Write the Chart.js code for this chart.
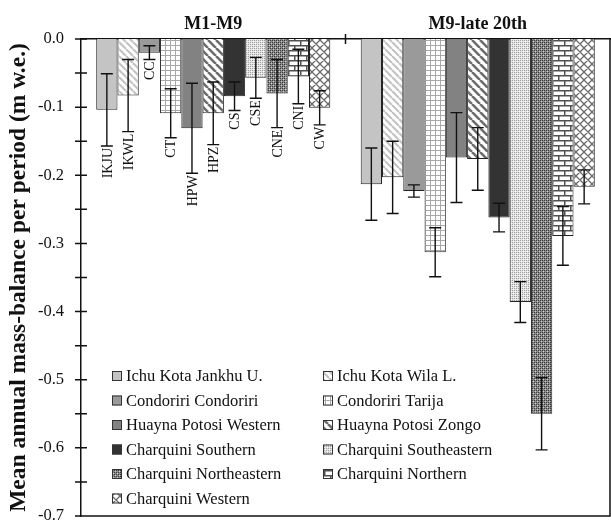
<!DOCTYPE html>
<html>
<head>
<meta charset="utf-8">
<script src="https://cdn.jsdelivr.net/npm/chart.js@4.4.0/dist/chart.umd.min.js"></script>
<style>
  html, body { margin: 0; padding: 0; background: #fff; }
  #wrap { width: 611px; height: 525px; }
</style>
</head>
<body>
<div id="wrap"><canvas id="massChart"></canvas></div>
<script>
const periods = ['M1-M9', 'M9-late 20th'];
const glacierNames = [
    'Ichu Kota Jankhu U.', 'Ichu Kota Wila L.', 'Condoriri Condoriri', 'Condoriri Tarija',
    'Huayna Potosi Western', 'Huayna Potosi Zongo', 'Charquini Southern', 'Charquini Southeastern',
    'Charquini Northeastern', 'Charquini Northern', 'Charquini Western'
];
const glacierCodes = ['IKJU', 'IKWL', 'CC', 'CT', 'HPW', 'HPZ', 'CS', 'CSE', 'CNE', 'CNI', 'CW'];
const balanceM1M9 = [-0.104, -0.083, -0.020, -0.109, -0.131, -0.109, -0.084, -0.057, -0.080, -0.055, -0.101];
const balanceM9Late = [-0.213, -0.203, -0.223, -0.313, -0.174, -0.176, -0.262, -0.386, -0.550, -0.289, -0.217];
const errorM1M9 = [0.053, 0.053, 0.010, 0.036, 0.066, 0.046, 0.021, 0.030, 0.050, 0.040, 0.025];
const errorM9Late = [0.053, 0.053, 0.009, 0.036, 0.066, 0.046, 0.021, 0.030, 0.053, 0.043, 0.025];
const yTickValues = [0, -0.1, -0.2, -0.3, -0.4, -0.5, -0.6, -0.7];

const SERIF = "'Liberation Serif', 'Times New Roman', serif";

function makePattern(w, h, draw) {
    const c = document.createElement('canvas');
    c.width = w;
    c.height = h;
    const g = c.getContext('2d');
    draw(g, w, h);
    return g.createPattern(c, 'repeat');
}

function solid(color) {
    return makePattern(4, 4, function (g, w, h) { g.fillStyle = color; g.fillRect(0, 0, w, h); });
}

function hatch(bg, fg, lw, size) {
    return makePattern(size, size, function (g, w, h) {
        g.fillStyle = bg; g.fillRect(0, 0, w, h);
        g.strokeStyle = fg; g.lineWidth = lw;
        g.beginPath();
        for (let k = -1; k <= 1; k++) {
            g.moveTo(k * w, 0);
            g.lineTo(k * w + w, h);
        }
        g.stroke();
    });
}

function dots(bg, a, b) {
    return makePattern(4, 4, function (g) {
        g.fillStyle = bg; g.fillRect(0, 0, 4, 4);
        g.fillStyle = a;
        g.fillRect(0, 0, 1, 1); g.fillRect(2, 2, 1, 1); g.fillRect(2, 0, 1, 1); g.fillRect(0, 2, 1, 1);
        g.fillStyle = b;
        g.fillRect(1, 1, 1, 1); g.fillRect(3, 3, 1, 1);
    });
}

const fills = [
    solid('#c4c4c4'),
    hatch('#ffffff', '#c4c4c4', 2.2, 7),
    solid('#9a9a9a'),
    makePattern(5, 5, function (g, w, h) {
        g.fillStyle = '#ffffff'; g.fillRect(0, 0, w, h);
        g.fillStyle = '#a8a8a8'; g.fillRect(0, 0, w, 1); g.fillRect(0, 0, 1, h);
    }),
    solid('#828282'),
    hatch('#ffffff', '#6e6e6e', 2.6, 8),
    solid('#333333'),
    dots('#e2e2e2', '#a0a0a0', '#ffffff'),
    dots('#8a8a8a', '#3a3a3a', '#d0d0d0'),
    makePattern(12, 10, function (g, w, h) {
        g.fillStyle = '#ffffff'; g.fillRect(0, 0, w, h);
        g.fillStyle = '#505050';
        g.fillRect(0, 0, w, 1.5); g.fillRect(0, 5, w, 1.5);
        g.fillRect(0, 0, 1.5, 5); g.fillRect(6, 5, 1.5, 5);
    }),
    makePattern(8, 8, function (g, w, h) {
        g.fillStyle = '#ffffff'; g.fillRect(0, 0, w, h);
        g.strokeStyle = '#6a6a6a'; g.lineWidth = 1.3;
        g.beginPath();
        for (let k = -1; k <= 1; k++) {
            g.moveTo(k * w, 0); g.lineTo(k * w + w, h);
            g.moveTo(k * w + w, 0); g.lineTo(k * w, h);
        }
        g.stroke();
    })
];

const datasets = glacierNames.map(function (name, i) {
    return {
        label: name,
        code: glacierCodes[i],
        data: [balanceM1M9[i], balanceM9Late[i]],
        errors: [errorM1M9[i], errorM9Late[i]],
        backgroundColor: fills[i],
        borderColor: '#222222',
        borderWidth: 1,
        categoryPercentage: 0.885,
        barPercentage: 1.0
    };
});

const extrasPlugin = {
    id: 'extras',
    afterDatasetsDraw(chart) {
        const ctx = chart.ctx;
        const ys = chart.scales.y;
        const xs = chart.scales.x;
        const area = chart.chartArea;
        ctx.save();

        // error bars + codes under the first period
        chart.data.datasets.forEach(function (ds, i) {
            const meta = chart.getDatasetMeta(i);
            meta.data.forEach(function (bar, j) {
                const v = ds.data[j], e = ds.errors[j];
                const y1 = ys.getPixelForValue(v + e);
                const y2 = ys.getPixelForValue(v - e);
                const x = bar.x;
                ctx.strokeStyle = '#111';
                ctx.lineWidth = 1.4;
                ctx.beginPath();
                ctx.moveTo(x, y1); ctx.lineTo(x, y2);
                ctx.moveTo(x - 6, y1); ctx.lineTo(x + 6, y1);
                ctx.moveTo(x - 6, y2); ctx.lineTo(x + 6, y2);
                ctx.stroke();
                if (j === 0) {
                    ctx.save();
                    ctx.translate(x, y2 + 2);
                    ctx.rotate(-Math.PI / 2);
                    ctx.font = '14px ' + SERIF;
                    ctx.fillStyle = '#111';
                    ctx.textAlign = 'right';
                    ctx.textBaseline = 'middle';
                    ctx.fillText(ds.code, 0, 1);
                    ctx.restore();
                }
            });
        });

        // frame and ticks
        ctx.strokeStyle = '#111';
        ctx.lineWidth = 1.5;
        ctx.beginPath();
        ctx.moveTo(area.left, area.bottom); ctx.lineTo(area.right, area.bottom);
        ctx.lineTo(area.right, area.top);
        for (let v = 0; v >= -0.7001; v -= 0.05) {
            const py = ys.getPixelForValue(v);
            ctx.moveTo(area.left - 6, py); ctx.lineTo(area.left + 6, py);
        }
        const mid = (xs.getPixelForValue(0) + xs.getPixelForValue(1)) / 2;
        ctx.moveTo(mid, area.top - 5); ctx.lineTo(mid, area.top + 5);
        ctx.stroke();

        // legend inside plot
        const cols = [112, 323];
        chart.data.datasets.forEach(function (ds, i) {
            const cx = cols[i % 2];
            const cy = 376 + Math.floor(i / 2) * 24.5;
            ctx.fillStyle = ds.backgroundColor;
            ctx.fillRect(cx, cy - 5, 10, 10);
            ctx.strokeStyle = '#333';
            ctx.lineWidth = 1;
            ctx.strokeRect(cx + 0.5, cy - 4.5, 9, 9);
            ctx.fillStyle = '#111';
            ctx.font = '16.5px ' + SERIF;
            ctx.textAlign = 'left';
            ctx.textBaseline = 'middle';
            ctx.fillText(ds.label, cx + 14, cy + 1);
        });
        ctx.restore();
    }
};

new Chart(document.getElementById('massChart'), {
    type: 'bar',
    data: { labels: periods, datasets: datasets },
    plugins: [extrasPlugin],
    options: {
        responsive: true,
        maintainAspectRatio: false,
        animation: false,
        layout: { padding: { top: 0, right: 1, bottom: 9, left: 0 } },
        plugins: { legend: { display: false }, tooltip: { enabled: false } },
        scales: {
            x: {
                position: 'top',
                grid: { display: false },
                border: { display: true, color: '#111', width: 1.5 },
                ticks: { color: '#111', font: { family: SERIF, size: 18, weight: 'bold' }, padding: -4 },
                afterFit: function (s) { s.height = 39; s.paddingLeft = 0; s.paddingRight = 0; }
            },
            y: {
                min: -0.7,
                max: 0,
                grid: { display: false },
                border: { display: true, color: '#111', width: 1.5 },
                afterBuildTicks: function (s) { s.ticks = yTickValues.map(function (v) { return { value: v }; }); },
                ticks: {
                    color: '#111',
                    padding: 9,
                    font: { family: SERIF, size: 16.5 },
                    callback: function (v) { return Number(v).toFixed(1); }
                },
                title: {
                    display: true,
                    text: 'Mean annual mass-balance per period (m w.e.)',
                    color: '#111',
                    font: { family: SERIF, size: 23.5, weight: 'bold' },
                    padding: { top: 5, bottom: 0 }
                },
                afterFit: function (s) { s.width = 81; s.paddingTop = 0; s.paddingBottom = 0; }
            }
        }
    }
});
</script>
</body>
</html>
